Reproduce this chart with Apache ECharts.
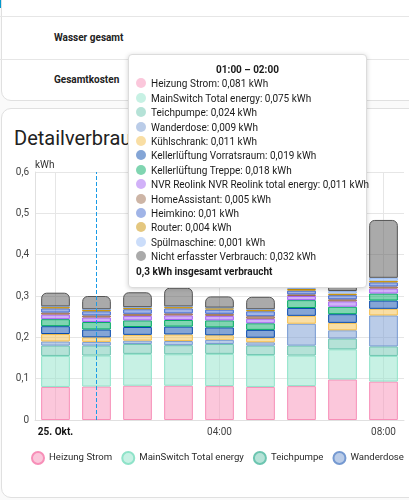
<!DOCTYPE html>
<html>
<head>
<meta charset="utf-8">
<script src="https://cdn.jsdelivr.net/npm/echarts@6/dist/echarts.min.js"></script>
<style>
html,body{margin:0;padding:0;width:409px;height:500px;overflow:hidden;background:#fafafa;font-family:Roboto,sans-serif;}
#topbar{position:absolute;left:0;top:0;width:409px;height:8px;background:#0398cc;}
.card{position:absolute;background:#fff;border:1px solid #e0e0e0;border-radius:10px;box-sizing:border-box;}
#card1{left:1px;top:-40px;width:440px;height:141px;}
#card2{left:1px;top:108px;width:440px;height:390px;}
.divider{position:absolute;left:0;width:409px;height:1px;background:#e6e6e6;}
.rowlabel{position:absolute;left:54px;font-size:10px;font-weight:bold;color:#222;line-height:12px;}
#title{position:absolute;left:14px;top:126px;font-size:20px;line-height:24px;color:#212121;}
#chart{position:absolute;left:0;top:0;width:409px;height:500px;}
</style>
</head>
<body>
<div id="topbar"></div>
<div class="card" id="card1"></div>
<div class="divider" style="top:16px"></div>
<div class="divider" style="top:59px"></div>
<div class="rowlabel" style="top:32px">Wasser gesamt</div>
<div class="rowlabel" style="top:74px">Gesamtkosten</div>
<div class="card" id="card2"></div>
<div id="title">Detailverbrauch</div>
<div id="chart"></div>
<script>
// ---- data ----
const categories = ['00:00','01:00','02:00','03:00','04:00','05:00','06:00','07:00','08:00'];
const dayLabel = '25. Okt.';
const seriesNames = ['Heizung Strom','MainSwitch Total energy','Teichpumpe','Wanderdose','Kühlschrank','Kellerlüftung Vorratsraum','Kellerlüftung Treppe','NVR Reolink NVR Reolink total energy','HomeAssistant','Heimkino','Router','Spülmaschine','Nicht erfasster Verbrauch'];
const heizungStrom   = [0.080,0.081,0.083,0.083,0.082,0.080,0.082,0.098,0.093];
const mainSwitch     = [0.075,0.075,0.077,0.076,0.078,0.077,0.074,0.073,0.062];
const teichpumpe     = [0.025,0.024,0.024,0.022,0.024,0.023,0.024,0.026,0.023];
const wanderdose     = [0.010,0.009,0.008,0.010,0.010,0.008,0.053,0.020,0.075];
const kuehlschrank   = [0.018,0.011,0.014,0.016,0.011,0.011,0.019,0.018,0.016];
const kellerVorrat   = [0.019,0.019,0.019,0.019,0.019,0.019,0.019,0.021,0.020];
const kellerTreppe   = [0.017,0.018,0.016,0.016,0.017,0.016,0.019,0.018,0.017];
const nvrReolink     = [0.011,0.011,0.011,0.011,0.011,0.011,0.010,0.013,0.012];
const homeAssistant  = [0.005,0.005,0.005,0.005,0.005,0.006,0.004,0.005,0.005];
const heimkino       = [0.010,0.010,0.011,0.012,0.010,0.012,0.009,0.010,0.010];
const router         = [0.004,0.004,0.004,0.004,0.004,0.004,0.004,0.004,0.004];
const spuelmaschine  = [0.001,0.001,0.001,0.001,0.001,0.001,0.003,0.006,0.007];
const nichtErfasst   = [0.033,0.032,0.036,0.045,0.027,0.030,0.030,0.030,0.140];
const seriesValues = [heizungStrom,mainSwitch,teichpumpe,wanderdose,kuehlschrank,kellerVorrat,kellerTreppe,nvrReolink,homeAssistant,heimkino,router,spuelmaschine,nichtErfasst];
const yTicks = [0,0.1,0.2,0.3,0.4,0.5,0.6];
const hoverIndex = 1;

// ---- styles ----
const baseColors = ['#f78fb8','#8fe3c9','#6cc5b0','#7599d1','#f4bd4a','#094bad','#01ab63','#a463f2','#9c6b4e','#4269d0','#c99000','#97bbf5','#555555'];
function fill(hex){
  const r=parseInt(hex.substr(1,2),16),g=parseInt(hex.substr(3,2),16),b=parseInt(hex.substr(5,2),16);
  return 'rgba('+r+','+g+','+b+',0.5)';
}
function fmt(v, d){
  const p = Math.pow(10, d===undefined?3:d);
  return String(Math.round(v*p)/p).replace('.', ',');
}

const chart = echarts.init(document.getElementById('chart'), null, {renderer:'canvas'});
const series = seriesNames.map((n,i)=>({
  name:n, type:'bar', stack:'total', barWidth:'70%', data:seriesValues[i],
  itemStyle:{color:fill(baseColors[i]), borderColor:baseColors[i], borderWidth:1,
    borderRadius: i===seriesNames.length-1 ? [5,5,0,0] : 0},
  emphasis:{disabled:true}
}));

function marker(c){
  return '<span style="display:inline-block;width:10px;height:10px;border-radius:50%;background:'+c+';margin-right:5px;vertical-align:-1px"></span>';
}

const option = {
  animation:false,
  textStyle:{fontFamily:'Roboto'},
  grid:{left:35,right:5,top:172,bottom:80},
  xAxis:{type:'category', data:categories,
    axisLine:{lineStyle:{color:'#e0e0e0'}}, axisTick:{show:false},
    axisLabel:{interval:3, fontSize:10, color:'#444', margin:7,
      formatter:(v,i)=> i===0 ? '{b|'+dayLabel+'}' : v,
      rich:{b:{fontWeight:'bold', color:'#111', fontSize:10}}},
    splitLine:{show:true, interval:3, alignWithLabel:true, lineStyle:{color:'#e6e6e6'}}},
  yAxis:{type:'value', min:yTicks[0], max:yTicks[yTicks.length-1], interval:0.1,
    name:'kWh', nameGap:2, nameTextStyle:{align:'left', fontSize:10, color:'#333'},
    axisLine:{show:true, lineStyle:{color:'#e0e0e0'}},
    axisLabel:{fontSize:10, color:'#444', margin:6, formatter:v=>fmt(v,1)},
    splitLine:{lineStyle:{color:'#e6e6e6'}}},
  legend:{left:31, top:451, padding:0, width:3000, icon:'circle', itemWidth:12, itemHeight:12, itemGap:9,
    textStyle:{fontSize:9.6, color:'#2a2a2a'}, data:seriesNames},
  tooltip:{trigger:'axis', triggerOn:'none', alwaysShowContent:true, position:[128,54],
    transitionDuration:0, backgroundColor:'#fff', borderColor:'#dcdcdc', borderWidth:1, padding:[8,7],
    textStyle:{fontSize:10, color:'#1a1a1a', fontFamily:'Roboto'},
    extraCssText:'box-shadow:0 1px 5px rgba(0,0,0,0.18);border-radius:4px;line-height:14.4px;width:239px;box-sizing:border-box;',
    axisPointer:{type:'line', lineStyle:{color:'#1a9be6', type:'dashed', width:1}},
    formatter:function(params){
      const idx = params[0].dataIndex;
      const start = categories[idx];
      const h = parseInt(start,10)+1;
      const end = (h<10?'0':'')+h+':00';
      let html = '<div style="text-align:center;font-weight:bold">'+start+' – '+end+'</div>';
      let total = 0;
      params.forEach(p=>{
        if(!p.value) return;
        total += p.value;
        html += '<div style="white-space:nowrap">'+marker(p.color)+p.seriesName+': '+fmt(p.value)+' kWh</div>';
      });
      html += '<div style="font-weight:bold">'+fmt(total,2)+' kWh insgesamt verbraucht</div>';
      return html;
    }},
  series:series
};
chart.setOption(option);
chart.dispatchAction({type:'showTip', seriesIndex:0, dataIndex:hoverIndex});
</script>
</body>
</html>
